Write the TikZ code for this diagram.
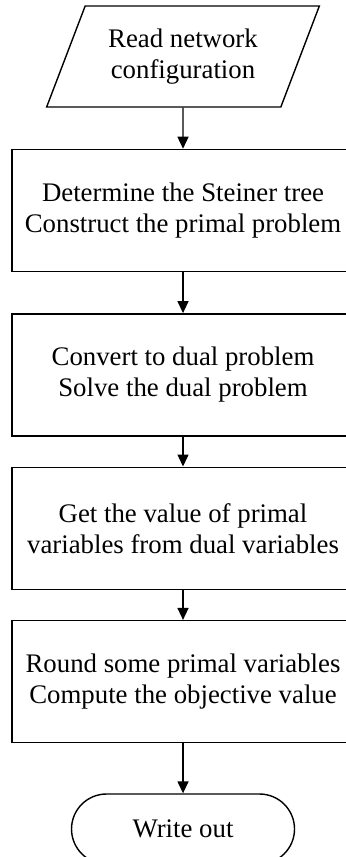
\documentclass[tikz,border=0pt]{standalone}
\usepackage{fontspec}
\setmainfont{Liberation Serif}
\usetikzlibrary{arrows.meta,positioning,shapes.geometric}

\begin{document}
\begin{tikzpicture}[
    node distance=15pt,
    every node/.style={font=\fontsize{13.4}{15.5}\selectfont},
    box/.style={draw, line width=0.7pt, align=center, minimum width=171pt, minimum height=61pt, inner sep=0pt},
    io/.style={draw, line width=0.7pt, trapezium, trapezium left angle=62, trapezium right angle=118, trapezium stretches=true, align=center, minimum width=136.5pt, minimum height=50.5pt, inner sep=0pt},
    term/.style={draw, line width=0.7pt, rounded corners=17.5pt, align=center, minimum width=111.5pt, minimum height=35pt},
    arrow/.style={-{Triangle[length=6pt,width=5.5pt]}, line width=0.7pt}
  ]
    \useasboundingbox (0,0) rectangle (173pt,-428.5pt);
    \node[io] (read) at (91.5pt,-28.25pt) {Read network\\configuration};
    \node[box, below=20.5pt of read] (steiner) {Determine the Steiner tree\\Construct the primal problem};
    \node[box, below=20.5pt of steiner] (dual) {Convert to dual problem\\Solve the dual problem};
    \node[box, below=of dual] (primal) {Get the value of primal\\variables from dual variables};
    \node[box, below=of primal] (round) {Round some primal variables\\Compute the objective value};
    \node[term, below=25pt of round] (out) {Write out};

    \draw[arrow] (read) -- (steiner);
    \draw[arrow] (steiner) -- (dual);
    \draw[arrow] (dual) -- (primal);
    \draw[arrow] (primal) -- (round);
    \draw[arrow] (round) -- (out);
  \end{tikzpicture}
\end{document}
